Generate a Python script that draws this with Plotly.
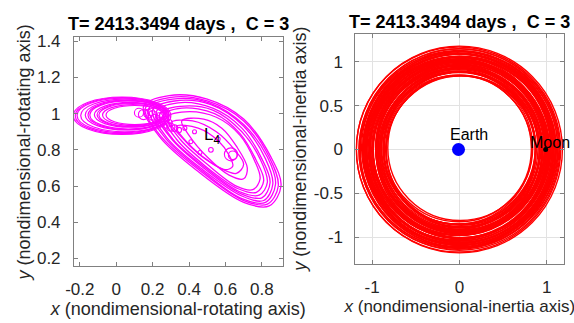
import plotly.graph_objects as go

# ---------------- data ----------------
TITLE_TEXT = "T= 2413.3494 days ,\u00a0\u00a0C = 3"

LEFT_XTICKS = [-0.2, 0, 0.2, 0.4, 0.6, 0.8]
LEFT_YTICKS = [0.2, 0.4, 0.6, 0.8, 1.0, 1.2, 1.4]
RIGHT_XTICKS = [-1, 0, 1]
RIGHT_YTICKS = [-1, -0.5, 0, 0.5, 1]

# left (rotating frame) lobe loops: x-left, x-right, y-bottom, y-top
LOBE_X0 = [-0.236, -0.225, -0.215, -0.195, -0.17, -0.155, -0.145, -0.12, -0.105, -0.095, -0.075, -0.056]
LOBE_X1 = [0.30, 0.29, 0.29, 0.29, 0.28, 0.28, 0.28, 0.27, 0.27, 0.27, 0.26, 0.26]
LOBE_Y0 = [0.885, 0.89, 0.895, 0.90, 0.91, 0.912, 0.915, 0.925, 0.928, 0.93, 0.935, 0.94]
LOBE_Y1 = [1.092, 1.088, 1.085, 1.08, 1.075, 1.072, 1.07, 1.062, 1.059, 1.056, 1.05, 1.045]

# left big tilted loops (traced points per loop)
BANANA_X = [
    [0.15, 0.29, 0.50, 0.70, 0.85, 0.905, 0.84, 0.70, 0.45, 0.24, 0.15],
    [0.16, 0.30, 0.50, 0.70, 0.84, 0.89, 0.83, 0.70, 0.46, 0.25, 0.16],
    [0.18, 0.31, 0.51, 0.70, 0.83, 0.875, 0.82, 0.69, 0.465, 0.27, 0.18],
    [0.20, 0.32, 0.52, 0.70, 0.82, 0.86, 0.81, 0.69, 0.47, 0.28, 0.20],
    [0.22, 0.34, 0.53, 0.69, 0.80, 0.845, 0.80, 0.68, 0.48, 0.30, 0.22],
    [0.24, 0.35, 0.53, 0.69, 0.79, 0.83, 0.785, 0.675, 0.485, 0.31, 0.24],
    [0.26, 0.36, 0.54, 0.68, 0.77, 0.81, 0.77, 0.67, 0.49, 0.33, 0.26],
    [0.28, 0.38, 0.55, 0.68, 0.76, 0.79, 0.75, 0.66, 0.50, 0.35, 0.28],
    [0.30, 0.42, 0.55, 0.65, 0.70, 0.66, 0.57, 0.45, 0.35, 0.30],
    [0.33, 0.45, 0.56, 0.62, 0.64, 0.60, 0.52, 0.42, 0.33],
    [0.36, 0.48, 0.58, 0.66, 0.72, 0.70, 0.62, 0.50, 0.40, 0.36],
]
BANANA_Y = [
    [1.04, 1.10, 1.08, 0.97, 0.76, 0.60, 0.49, 0.51, 0.68, 0.87, 1.04],
    [1.03, 1.09, 1.07, 0.96, 0.76, 0.60, 0.50, 0.52, 0.685, 0.87, 1.03],
    [1.03, 1.08, 1.06, 0.94, 0.76, 0.61, 0.51, 0.53, 0.69, 0.865, 1.03],
    [1.02, 1.07, 1.05, 0.93, 0.75, 0.61, 0.52, 0.545, 0.695, 0.865, 1.02],
    [1.01, 1.06, 1.03, 0.92, 0.75, 0.62, 0.535, 0.56, 0.70, 0.865, 1.01],
    [1.00, 1.04, 1.02, 0.90, 0.75, 0.62, 0.55, 0.57, 0.705, 0.86, 1.00],
    [0.99, 1.03, 1.00, 0.89, 0.74, 0.63, 0.565, 0.585, 0.71, 0.86, 0.99],
    [0.98, 1.01, 0.98, 0.88, 0.74, 0.64, 0.58, 0.60, 0.72, 0.86, 0.98],
    [0.95, 0.96, 0.90, 0.80, 0.72, 0.67, 0.70, 0.78, 0.88, 0.95],
    [0.93, 0.92, 0.85, 0.77, 0.71, 0.69, 0.73, 0.81, 0.93],
    [0.96, 0.97, 0.92, 0.82, 0.70, 0.64, 0.66, 0.76, 0.88, 0.96],
]

# small epicycle loops: centre x, centre y, radius
EPI_X = [0.125, 0.15, 0.175, 0.20, 0.215, 0.235, 0.245, 0.265, 0.275, 0.29, 0.30,
         0.32, 0.345, 0.377, 0.43, 0.41, 0.46, 0.52, 0.63, 0.64, 0.56, 0.19, 0.255]
EPI_Y = [1.005, 0.995, 1.00, 0.99, 0.975, 0.985, 0.955, 0.965, 0.94, 0.95, 0.925,
         0.92, 0.91, 0.92, 0.90, 0.845, 0.785, 0.80, 0.775, 0.77, 0.86, 1.01, 0.99]
EPI_R = [0.025, 0.028, 0.024, 0.026, 0.022, 0.02, 0.025, 0.022, 0.02, 0.018, 0.022,
         0.018, 0.014, 0.011, 0.011, 0.011, 0.011, 0.013, 0.036, 0.024, 0.011, 0.02, 0.018]

L4_POS = (0.47, 0.875)

# right (inertial frame) rings: centre x, centre y, radius
RING_CX = [0.01, -0.02, 0.02, 0.00, -0.01, 0.03, -0.03, 0.01, 0.00, -0.02, 0.02, 0.01, -0.01,
           0.00, 0.02, -0.02, 0.01, -0.01, 0.03, 0.00, -0.02, 0.01, 0.02, -0.01, 0.00, -0.03,
           0.01, 0.02, -0.01, 0.00, 0.01, -0.02, 0.02, 0.00, -0.01, 0.01, -0.02, 0.00, -0.01, 0.00,
           -0.01, 0.02, 0.00, -0.02, 0.01, 0.03, -0.01, 0.00, 0.02, -0.02, 0.01, 0.00, -0.03, 0.02,
           0.00, -0.01, 0.01, 0.02, -0.02, 0.00]
RING_CY = [0.02, 0.00, -0.02, 0.01, 0.03, 0.00, -0.01, 0.02, -0.03, 0.01, 0.00, -0.02, 0.02,
           0.00, 0.01, -0.01, 0.03, 0.00, -0.02, 0.01, 0.02, -0.01, 0.00, 0.01, -0.02, 0.00,
           0.02, -0.01, 0.01, 0.00, -0.02, 0.01, 0.00, -0.01, 0.02, 0.00, -0.01, 0.00, 0.00, 0.00,
           0.01, -0.01, 0.02, 0.00, -0.02, 0.01, 0.00, -0.02, 0.01, 0.02, 0.00, -0.01, 0.01, 0.00,
           -0.02, 0.01, 0.00, 0.02, -0.01, 0.01]
RING_R = [0.83, 0.85, 0.86, 0.87, 0.88, 0.89, 0.90, 0.91, 0.915, 0.92, 0.93, 0.94, 0.945,
          0.95, 0.96, 0.965, 0.97, 0.98, 0.985, 0.99, 1.00, 1.005, 1.01, 1.02, 1.025, 1.03,
          1.04, 1.05, 1.055, 1.06, 1.07, 1.08, 1.09, 1.10, 1.11, 1.12, 1.13, 1.15, 1.17, 1.18,
          0.835, 0.855, 0.875, 0.895, 0.905, 0.925, 0.935, 0.955, 0.975, 0.995, 1.015, 1.035,
          1.045, 1.065, 1.075, 1.085, 1.095, 1.105, 1.115, 1.14]

BODY_NAMES = ["Earth", "Moon"]
BODY_X = [-0.01, 0.988]
BODY_Y = [0.0, 0.0]
BODY_LABEL_X = [0.11, 0.79]
BODY_LABEL_Y = [0.175, 0.08]

# ---------------- styling ----------------
W, H = 574, 323
FONT = "Liberation Sans, Arial, Helvetica, sans-serif"
MAGENTA = "#ff00ff"
RED = "#ff0000"
AX = "#262626"
LINE = "#808080"

fig = go.Figure()

# left: big loops as splines
bx, by = [], []
for xs, ys in zip(BANANA_X, BANANA_Y):
    bx += xs + [None]
    by += ys + [None]
fig.add_trace(go.Scatter(x=bx, y=by, mode="lines", line=dict(color=MAGENTA, width=1.3, shape="spline"),
                         xaxis="x", yaxis="y", hoverinfo="skip", showlegend=False))

shapes = []
for x0, x1, y0, y1 in zip(LOBE_X0, LOBE_X1, LOBE_Y0, LOBE_Y1):
    shapes.append(dict(type="circle", xref="x", yref="y", x0=x0, x1=x1, y0=y0, y1=y1,
                       line=dict(color=MAGENTA, width=1.2), layer="between"))
for cx, cy, r in zip(EPI_X, EPI_Y, EPI_R):
    shapes.append(dict(type="circle", xref="x", yref="y", x0=cx - r, x1=cx + r, y0=cy - r, y1=cy + r,
                       line=dict(color=MAGENTA, width=1.1), layer="between"))
for cx, cy, r in zip(RING_CX, RING_CY, RING_R):
    shapes.append(dict(type="circle", xref="x2", yref="y2", x0=cx - r, x1=cx + r, y0=cy - r, y1=cy + r,
                       line=dict(color=RED, width=1.4), layer="between"))

# right: Earth and Moon
fig.add_trace(go.Scatter(x=BODY_X, y=BODY_Y, mode="markers", xaxis="x2", yaxis="y2",
                         marker=dict(color=["#0000ff", "#000000"], size=[13, 5], opacity=1,
                                     line=dict(width=0)),
                         hoverinfo="skip", showlegend=False))

annotations = []
for name, lx, ly in zip(BODY_NAMES, BODY_LABEL_X, BODY_LABEL_Y):
    annotations.append(dict(x=lx, y=ly, xref="x2", yref="y2", text=name, showarrow=False,
                            xanchor="center" if name == "Earth" else "left", yanchor="middle",
                            font=dict(family=FONT, size=16, color="#000000")))
annotations.append(dict(x=L4_POS[0], y=L4_POS[1], xref="x", yref="y", text="L<sub>4</sub>",
                        showarrow=False, xanchor="left", yanchor="middle",
                        font=dict(family=FONT, size=17, color="#000000")))
for xc, yc in [((66 + 278) / 2 / W, 1 - 19 / H), ((352 + 564) / 2 / W, 1 - 17.5 / H)]:
    annotations.append(dict(x=xc, y=yc, xref="paper", yref="paper", text="<b>" + TITLE_TEXT + "</b>",
                            showarrow=False, xanchor="center", yanchor="middle",
                            font=dict(family=FONT, size=18, color="#000000")))

TFONT = dict(family=FONT, size=18, color=AX)
TFONT_R = dict(family=FONT, size=17, color=AX)

# y-axis titles placed beside the tick labels
for text, xc, yc in [("<i>y</i> (nondimensional-rotating axis)", 15 / W, 1 - 151 / H),
                     ("<i>y</i> (nondimensional-inertia axis)", 296 / W, 1 - 147.5 / H)]:
    annotations.append(dict(x=xc, y=yc, xref="paper", yref="paper", text=text, textangle=-90,
                            showarrow=False, xanchor="center", yanchor="middle", font=TFONT))


def axis_style(**kw):
    d = dict(ticks="inside", ticklen=4, tickcolor=LINE, showline=True, linecolor=LINE, linewidth=1,
             mirror="ticks", zeroline=False, tickfont=dict(family=FONT, size=17, color=AX))
    d.update(kw)
    return d


fig.update_layout(
    width=W, height=H, margin=dict(l=0, r=0, t=0, b=0),
    paper_bgcolor="white", plot_bgcolor="white",
    font=dict(family=FONT, color=AX),
    xaxis=axis_style(domain=[66 / W, 278 / W], range=[-0.232, 0.914], anchor="y",
                     tickvals=LEFT_XTICKS, ticktext=["-0.2", "0", "0.2", "0.4", "0.6", "0.8"],
                     showgrid=False, ticklabelstandoff=7,
                     title=dict(text="<i>x</i> (nondimensional-rotating axis)", font=TFONT, standoff=0)),
    yaxis=axis_style(domain=[1 - 267 / H, 1 - 33 / H], range=[0.157, 1.422], anchor="x",
                     tickvals=LEFT_YTICKS, ticktext=["0.2", "0.4", "0.6", "0.8", "1", "1.2", "1.4"],
                     showgrid=False, ticklabelstandoff=9),
    xaxis2=axis_style(domain=[352 / W, 564 / W], range=[-1.19, 1.20], anchor="y2",
                      tickvals=RIGHT_XTICKS, ticktext=["-1", "0", "1"],
                      showgrid=True, gridcolor="#e2e2e2", gridwidth=1, ticklabelstandoff=7,
                      title=dict(text="<i>x</i> (nondimensional-inertia axis)", font=TFONT_R, standoff=0)),
    yaxis2=axis_style(domain=[1 - 265 / H, 1 - 30 / H], range=[-1.31, 1.315], anchor="x2",
                      tickvals=RIGHT_YTICKS, ticktext=["-1", "-0.5", "0", "0.5", "1"],
                      showgrid=True, gridcolor="#e2e2e2", gridwidth=1, ticklabelstandoff=8),
    shapes=shapes,
    annotations=annotations,
)

fig.write_html("out.html")
